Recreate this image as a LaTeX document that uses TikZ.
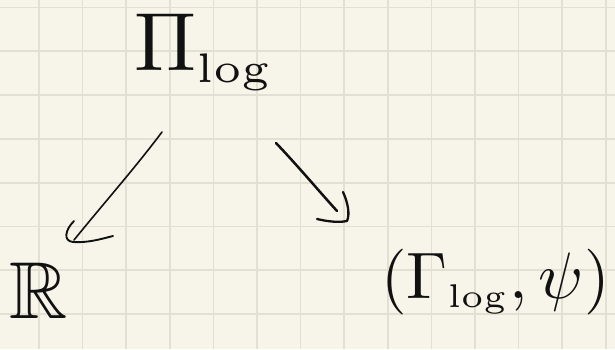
\documentclass[tikz,border=0pt]{standalone}
\usepackage{amssymb}
\definecolor{paper}{HTML}{F7F5EA}
\definecolor{rule}{HTML}{E2E0D3}
\definecolor{ink}{HTML}{111111}
\begin{document}
\begin{tikzpicture}[x=1bp,y=-1bp,
  gridline/.style={draw=rule,line width=1.7bp},
  pen/.style={draw=ink,line width=2bp,line cap=round,line join=round},
  label/.style={inner sep=0pt,text=ink}]
\useasboundingbox (0,0) rectangle (615,349);
% squared paper
\fill[paper] (0,0) rectangle (615,349);
\foreach \i in {0,...,13}
  \draw[gridline] ({39+43.6*\i},0) -- ({39+43.6*\i},349);
\foreach \j in {0,...,7}
  \draw[gridline] (0,{7.5+43.8*\j}) -- (615,{7.5+43.8*\j});

% objects
\node[label,scale=8.3,anchor=base west] (top) at (133,70) {$\Pi_{\scriptscriptstyle\log}$};
\node[label,scale=8.1,anchor=base west] (reals) at (8,318) {$\mathbb{R}$};
\node[label,scale=6.6,anchor=base west] (pair) at (380,298) {$(\Gamma_{\scriptscriptstyle\log},\psi)$};

% arrow ends
\coordinate (l0) at (162,132);
\coordinate (l1) at (74,240);
\coordinate (r0) at (276,143);
\coordinate (r1) at (337,211);

% left arrow
\draw[pen,line width=1.6bp] (l0) .. controls (135,168) and (104,203) .. (l1);
\draw[pen,line width=1.9bp] (74,221) .. controls (65,230) and (63,241) .. (73,242)
  .. controls (88,243) and (101,239) .. (113,236);

% right arrow
\draw[pen,line width=2.5bp] (r0) .. controls (297,165) and (318,190) .. (r1);
\draw[pen,line width=2.3bp] (343,192) .. controls (348,203) and (350,214) .. (347,221)
  .. controls (337,223) and (326,221) .. (317,219);
\end{tikzpicture}
\end{document}
